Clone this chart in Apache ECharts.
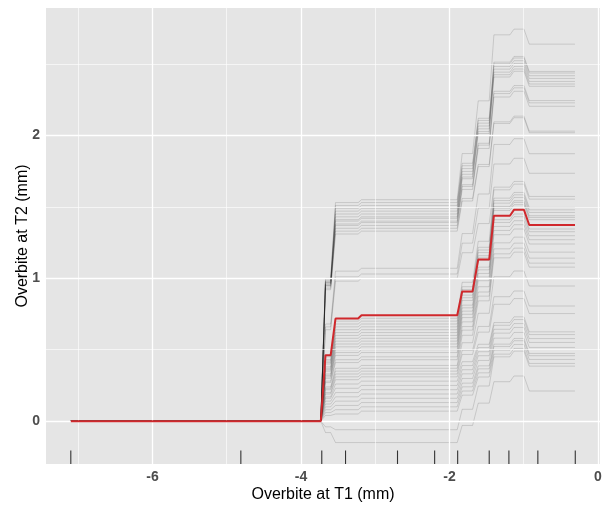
<!DOCTYPE html>
<html>
<head>
<meta charset="utf-8">
<script src="https://cdn.jsdelivr.net/npm/echarts@6/dist/echarts.min.js"></script>
<style>html,body{margin:0;padding:0;background:#fff;}#chart{width:608px;height:508px;}</style>
</head>
<body>
<div id="chart"></div>
<script>
// x positions where the curves change level (Overbite at T1, mm)
const xKeys = [-7.1, -3.733, -3.67, -3.60, -3.535, -3.23, -3.185, -1.896, -1.829, -1.689, -1.613, -1.465, -1.402, -1.186, -1.132, -0.997, -0.926, -0.31];

// average (PDP) curve values at xKeys
const pdpValues = [0, 0, 0.462, 0.462, 0.718, 0.718, 0.741, 0.741, 0.908, 0.908, 1.131, 1.131, 1.438, 1.438, 1.479, 1.479, 1.373, 1.373];

// individual (ICE) curves: levels after each step [A, B, C, D, E, F, G, H]
const iceLevels = [
  [1.00, 1.53, 1.55, 1.873, 2.242, 2.704, 2.744, 2.639],
  [0.99, 1.51, 1.53, 1.805, 2.120, 2.513, 2.553, 2.448],
  [0.98, 1.49, 1.51, 1.788, 2.105, 2.502, 2.542, 2.437],
  [0.98, 1.47, 1.49, 1.768, 2.086, 2.483, 2.523, 2.418],
  [0.97, 1.45, 1.47, 1.748, 2.066, 2.464, 2.504, 2.399],
  [0.97, 1.43, 1.45, 1.728, 2.046, 2.443, 2.483, 2.378],
  [0.96, 1.41, 1.43, 1.709, 2.027, 2.425, 2.465, 2.360],
  [0.96, 1.40, 1.42, 1.697, 2.013, 2.409, 2.449, 2.344],
  [0.95, 1.38, 1.40, 1.655, 1.945, 2.309, 2.349, 2.244],
  [0.95, 1.37, 1.39, 1.643, 1.932, 2.293, 2.333, 2.228],
  [0.94, 1.35, 1.37, 1.622, 1.909, 2.269, 2.309, 2.204],
  [0.93, 1.33, 1.35, 1.559, 1.797, 2.095, 2.135, 2.030],
  [0.92, 1.31, 1.33, 1.541, 1.782, 2.084, 2.124, 2.019],
  [0.68, 1.05, 1.07, 1.313, 1.590, 1.937, 1.977, 1.872],
  [0.66, 1.01, 1.03, 1.246, 1.492, 1.800, 1.840, 1.735],
  [0.64, 0.98, 1.00, 1.179, 1.383, 1.638, 1.678, 1.573],
  [0.45, 0.70, 0.72, 0.972, 1.259, 1.619, 1.659, 1.554],
  [0.43, 0.68, 0.70, 0.941, 1.217, 1.561, 1.601, 1.496],
  [0.42, 0.66, 0.68, 0.922, 1.198, 1.544, 1.584, 1.479],
  [0.41, 0.64, 0.66, 0.902, 1.180, 1.526, 1.566, 1.461],
  [0.40, 0.62, 0.64, 0.882, 1.158, 1.503, 1.543, 1.438],
  [0.38, 0.60, 0.62, 0.864, 1.143, 1.491, 1.531, 1.426],
  [0.37, 0.58, 0.60, 0.845, 1.125, 1.475, 1.515, 1.410],
  [0.36, 0.56, 0.58, 0.812, 1.078, 1.410, 1.450, 1.345],
  [0.35, 0.54, 0.56, 0.793, 1.059, 1.391, 1.431, 1.326],
  [0.33, 0.52, 0.54, 0.770, 1.034, 1.363, 1.403, 1.298],
  [0.32, 0.50, 0.52, 0.748, 1.009, 1.335, 1.375, 1.270],
  [0.31, 0.48, 0.50, 0.725, 0.983, 1.305, 1.345, 1.240],
  [0.30, 0.46, 0.48, 0.695, 0.941, 1.248, 1.288, 1.183],
  [0.28, 0.43, 0.45, 0.662, 0.904, 1.206, 1.246, 1.141],
  [0.27, 0.41, 0.43, 0.637, 0.875, 1.171, 1.211, 1.106],
  [0.24, 0.37, 0.39, 0.601, 0.842, 1.143, 1.183, 1.078],
  [0.23, 0.35, 0.37, 0.549, 0.755, 1.011, 1.051, 0.946],
  [0.22, 0.33, 0.35, 0.496, 0.663, 0.871, 0.911, 0.806],
  [0.20, 0.31, 0.33, 0.467, 0.623, 0.818, 0.858, 0.753],
  [0.19, 0.29, 0.31, 0.416, 0.538, 0.690, 0.730, 0.625],
  [0.17, 0.26, 0.28, 0.389, 0.515, 0.671, 0.711, 0.606],
  [0.16, 0.23, 0.25, 0.360, 0.486, 0.643, 0.683, 0.578],
  [0.14, 0.20, 0.22, 0.331, 0.458, 0.616, 0.656, 0.551],
  [0.12, 0.17, 0.19, 0.299, 0.425, 0.581, 0.621, 0.516],
  [0.10, 0.14, 0.16, 0.266, 0.387, 0.539, 0.579, 0.474],
  [0.08, 0.11, 0.13, 0.240, 0.366, 0.523, 0.563, 0.458],
  [0.06, 0.08, 0.10, 0.211, 0.338, 0.497, 0.537, 0.432],
  [0.04, 0.05, 0.07, 0.182, 0.309, 0.469, 0.509, 0.404],
  [-0.04, -0.06, -0.06, 0.083, 0.246, 0.450, 0.490, 0.385],
  [-0.08, -0.15, -0.15, -0.030, 0.126, 0.276, 0.316, 0.211]
];

// rug (deciles of Overbite at T1)
const rugX = [-7.1, -4.81, -3.72, -3.4, -2.7, -2.2, -1.89, -1.465, -1.2, -0.81, -0.306];

// tick labels and grid
const xTicks = [-6, -4, -2, 0];
const yTicks = [0, 1, 2];
const xMinor = [-7, -5, -3, -1];
const yMinor = [0.5, 1.5, 2.5];

function expand(levels) {
  const v = [0, 0];
  levels.forEach(l => { v.push(l, l); });
  return xKeys.map((x, i) => [x, v[i]]);
}

const font = "'Liberation Sans', Arial, sans-serif";
const series = [];

// grid lines (major and minor) drawn through the axes
const gridLines = [];
xMinor.forEach(x => gridLines.push({ xAxis: x, lineStyle: { width: 0.6 } }));
yMinor.forEach(y => gridLines.push({ yAxis: y, lineStyle: { width: 0.6 } }));
xTicks.forEach(x => gridLines.push({ xAxis: x, lineStyle: { width: 1.3 } }));
yTicks.forEach(y => gridLines.push({ yAxis: y, lineStyle: { width: 1.3 } }));
series.push({
  type: 'line', data: [[xKeys[0], 0]], symbol: 'none', z: 1,
  lineStyle: { opacity: 0 }, silent: true,
  markLine: { silent: true, symbol: 'none', label: { show: false },
    lineStyle: { color: '#ffffff', type: 'solid' }, data: gridLines, animation: false }
});

iceLevels.forEach(lv => {
  series.push({
    type: 'line', data: expand(lv), symbol: 'none', z: 2, silent: true,
    lineStyle: { color: 'rgba(0,0,0,0.17)', width: 0.8 }
  });
});

series.push({
  type: 'line', data: xKeys.map((x, i) => [x, pdpValues[i]]), symbol: 'none', z: 5,
  lineStyle: { color: '#d0282c', width: 2 }
});

series.push({
  type: 'custom', z: 4, silent: true,
  data: rugX.map(x => [x]),
  renderItem: function (params, api) {
    const p = api.coord([api.value(0), -0.3]);
    return { type: 'line', shape: { x1: p[0], y1: p[1], x2: p[0], y2: p[1] - 13.5 },
      style: { stroke: '#333333', lineWidth: 1.1 } };
  }
});

const chart = echarts.init(document.getElementById('chart'), null, { renderer: 'canvas' });
chart.setOption({
  animation: false,
  backgroundColor: '#ffffff',
  grid: { left: 46, right: 8, top: 8, bottom: 42, show: true, backgroundColor: '#e5e5e5', borderWidth: 0 },
  xAxis: {
    type: 'value', min: -7.434, max: 0.027,
    name: 'Overbite at T1 (mm)', nameLocation: 'middle', nameGap: 23, nameMoveOverlap: false,
    nameTextStyle: { fontFamily: font, fontSize: 16, color: '#000' },
    axisLine: { show: false }, splitLine: { show: false },
    axisTick: { show: true, customValues: xTicks, length: 3, lineStyle: { color: '#333', width: 1 } },
    axisLabel: { customValues: xTicks, margin: 6, fontFamily: font, fontSize: 14, fontWeight: 'bold', color: '#4d4d4d' }
  },
  yAxis: {
    type: 'value', min: -0.3, max: 2.892,
    name: 'Overbite at T2 (mm)', nameLocation: 'middle', nameGap: 15, nameMoveOverlap: false,
    nameTextStyle: { fontFamily: font, fontSize: 16, color: '#000' },
    axisLine: { show: false }, splitLine: { show: false },
    axisTick: { show: true, customValues: yTicks, length: 3, lineStyle: { color: '#333', width: 1 } },
    axisLabel: { customValues: yTicks, margin: 6, fontFamily: font, fontSize: 14, fontWeight: 'bold', color: '#4d4d4d' }
  },
  series: series
});
</script>
</body>
</html>
